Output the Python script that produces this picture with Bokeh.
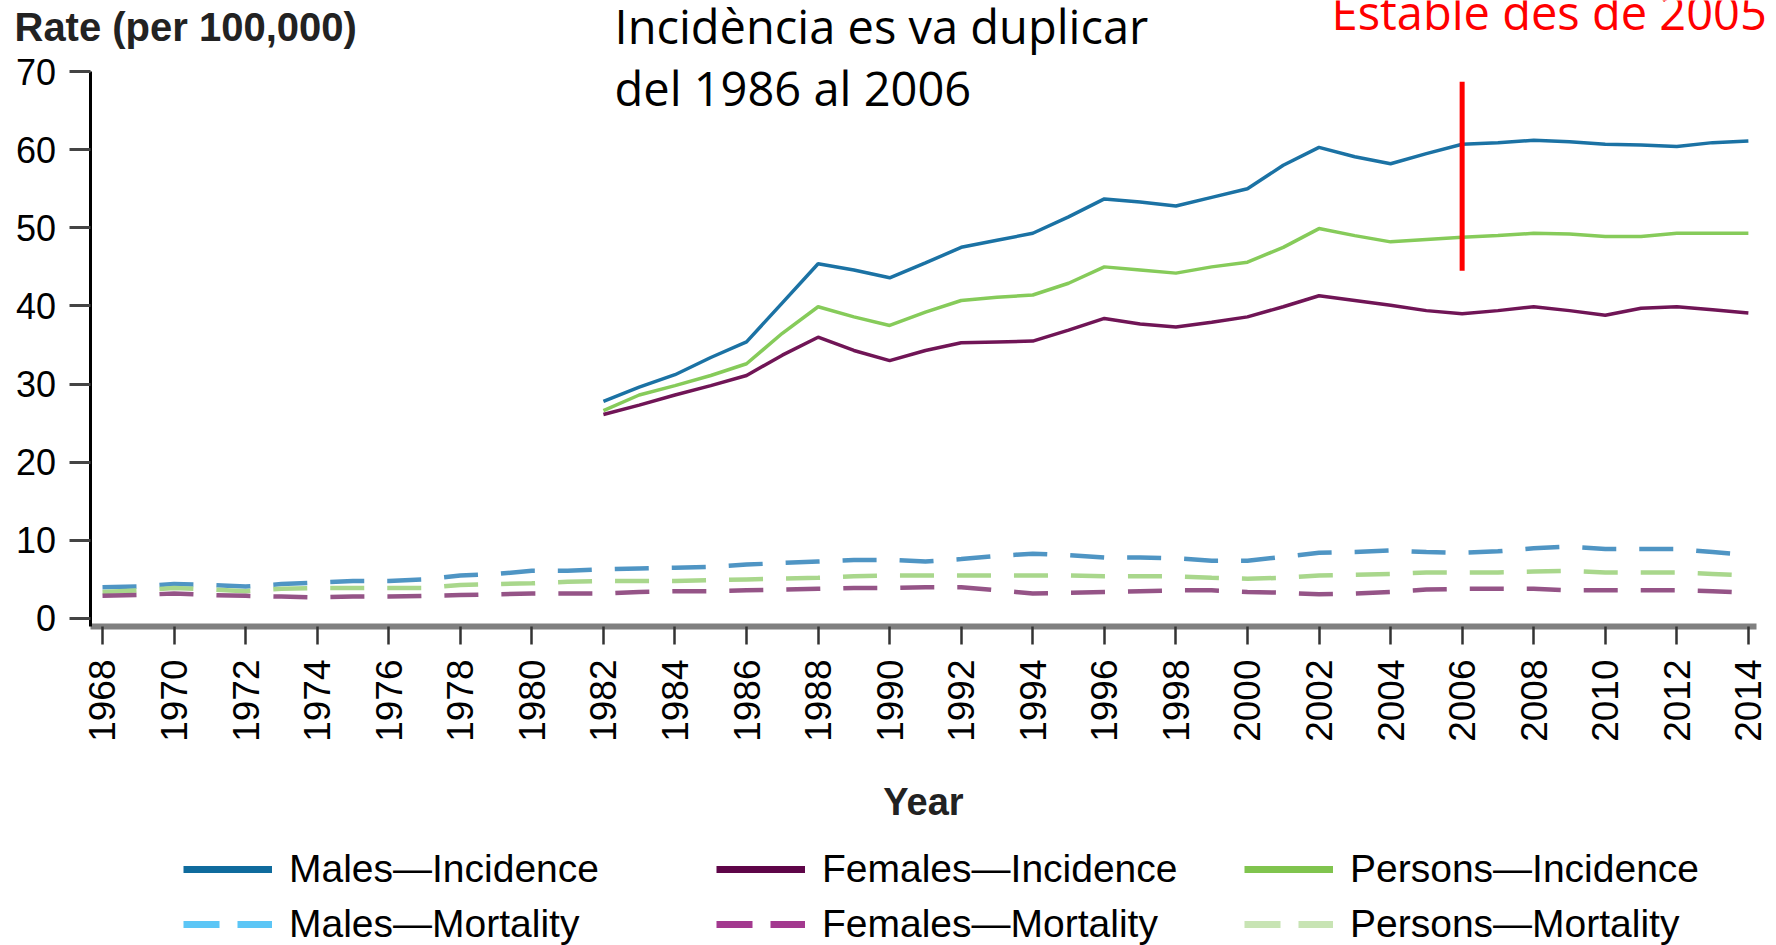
import math
from bokeh.plotting import figure
from bokeh.models import Range1d, FixedTicker, Label, Legend, LegendItem
from bokeh.embed import file_html
from bokeh.resources import INLINE

# ---------------- data ----------------
years = list(range(1968, 2015))
inc_years = list(range(1982, 2015))

males_incidence = [27.8, 29.6, 31.2, 33.4, 35.4, 40.4, 45.4, 44.6, 43.6, 45.5, 47.5, 48.4, 49.3, 51.4, 53.7, 53.3, 52.8,
                   53.9, 55.0, 58.0, 60.3, 59.1, 58.2, 59.5, 60.7, 60.9, 61.2, 61.0, 60.7, 60.6, 60.4, 60.9, 61.1]
females_incidence = [26.1, 27.3, 28.6, 29.8, 31.1, 33.7, 36.0, 34.3, 33.0, 34.3, 35.3, 35.4, 35.5, 36.9, 38.4, 37.7, 37.3,
                     37.9, 38.6, 39.9, 41.3, 40.7, 40.1, 39.4, 39.0, 39.4, 39.9, 39.4, 38.8, 39.7, 39.9, 39.5, 39.1]
persons_incidence = [26.6, 28.6, 29.8, 31.1, 32.6, 36.5, 39.9, 38.6, 37.5, 39.2, 40.7, 41.1, 41.4, 42.9, 45.0, 44.6, 44.2,
                     45.0, 45.6, 47.5, 49.9, 49.0, 48.2, 48.5, 48.8, 49.0, 49.3, 49.2, 48.9, 48.9, 49.3, 49.3, 49.3]

males_mortality = [4.0, 4.1, 4.4, 4.3, 4.1, 4.4, 4.6, 4.8, 4.8, 5.0, 5.5, 5.7, 6.1, 6.1, 6.3, 6.4, 6.5, 6.6, 6.9, 7.1,
                   7.3, 7.5, 7.5, 7.3, 7.6, 8.0, 8.3, 8.1, 7.8, 7.8, 7.7, 7.4, 7.4, 7.9, 8.4, 8.5, 8.7, 8.5, 8.4, 8.6,
                   9.0, 9.2, 8.9, 8.9, 8.9, 8.5, 8.1]
females_mortality = [2.9, 3.0, 3.2, 3.0, 2.9, 2.8, 2.7, 2.8, 2.8, 2.9, 3.0, 3.1, 3.2, 3.2, 3.2, 3.4, 3.5, 3.5, 3.6, 3.7,
                     3.8, 3.9, 3.9, 4.0, 4.0, 3.6, 3.2, 3.3, 3.4, 3.5, 3.6, 3.6, 3.4, 3.3, 3.1, 3.2, 3.4, 3.7, 3.8, 3.8,
                     3.8, 3.6, 3.6, 3.6, 3.6, 3.5, 3.3]
persons_mortality = [3.4, 3.6, 3.9, 3.7, 3.5, 3.8, 3.9, 3.9, 3.9, 3.9, 4.3, 4.4, 4.5, 4.7, 4.8, 4.8, 4.8, 4.9, 5.0, 5.1,
                     5.2, 5.4, 5.5, 5.5, 5.5, 5.5, 5.5, 5.5, 5.4, 5.4, 5.4, 5.2, 5.1, 5.2, 5.5, 5.6, 5.7, 5.9, 5.9, 5.9,
                     6.0, 6.1, 5.9, 5.9, 5.9, 5.7, 5.5]

x_ticks = list(range(1968, 2015, 2))
y_ticks = [0, 10, 20, 30, 40, 50, 60, 70]

marker_year = [2006]
marker_low = [44.5]
marker_high = [68.7]

legend_labels = ["Males\u2014Incidence", "Females\u2014Incidence", "Persons\u2014Incidence",
                 "Males\u2014Mortality", "Females\u2014Mortality", "Persons\u2014Mortality"]

# ---------------- figure ----------------
# plot area spans the whole canvas; axes are pinned at fixed data locations
X0, X1 = 1965.149, 2014.786
Y0, Y1 = -41.85, 79.09
AX_X = 1967.651   # where the y axis sits
AX_Y = -1.024     # where the x axis sits

p = figure(width=1776, height=945, output_backend="svg", toolbar_location=None,
           x_range=Range1d(X0, X1), y_range=Range1d(Y0, Y1),
           min_border_left=0, min_border_right=0, min_border_top=0, min_border_bottom=0)
p.outline_line_color = None
p.xgrid.grid_line_color = None
p.ygrid.grid_line_color = None
p.background_fill_color = "white"
p.border_fill_color = "white"

TICK_FONT = "Liberation Sans"

# x axis
xa = p.xaxis[0]
xa.fixed_location = AX_Y
xa.bounds = (AX_X, 2014.22)
xa.ticker = FixedTicker(ticks=x_ticks)
xa.major_label_orientation = math.pi / 2
xa.axis_line_color = "#808080"
xa.axis_line_width = 6
xa.major_tick_line_color = "#333333"
xa.major_tick_line_width = 2.5
xa.major_tick_out = 18
xa.major_tick_in = 0
xa.minor_tick_line_color = None
xa.major_label_text_font = TICK_FONT
xa.major_label_text_font_size = "37px"
xa.major_label_text_color = "black"
xa.major_label_standoff = 15
xa.axis_label = "Year"
xa.axis_label_text_font = TICK_FONT
xa.axis_label_text_font_style = "bold"
xa.axis_label_text_font_size = "38px"
xa.axis_label_text_color = "#222222"
xa.axis_label_standoff = 36

# y axis
ya = p.yaxis[0]
ya.fixed_location = AX_X
ya.bounds = (AX_Y, 70)
ya.ticker = FixedTicker(ticks=y_ticks)
ya.axis_line_color = "black"
ya.axis_line_width = 3
ya.major_tick_line_color = "#444444"
ya.major_tick_line_width = 3
ya.major_tick_out = 21
ya.major_tick_in = 0
ya.minor_tick_line_color = None
ya.major_label_text_font = TICK_FONT
ya.major_label_text_font_size = "36px"
ya.major_label_text_color = "black"
ya.major_label_standoff = 13

# ---------------- series ----------------
mort_dash = "34 23"
p.line(years, males_mortality, line_color="#4f95c4", line_width=4.5, line_dash=mort_dash)
p.line(years, persons_mortality, line_color="#a9d78c", line_width=4.5, line_dash=mort_dash)
p.line(years, females_mortality, line_color="#955487", line_width=4.5, line_dash=mort_dash)

p.line(inc_years, males_incidence, line_color="#1b72a4", line_width=3.5)
p.line(inc_years, persons_incidence, line_color="#86cb5a", line_width=3.5)
p.line(inc_years, females_incidence, line_color="#701556", line_width=3.5)

p.segment(x0=marker_year, y0=marker_low, x1=marker_year, y1=marker_high,
          line_color="#ff0000", line_width=5)

# ---------------- legend ----------------
leg_specs = [
    dict(color="#0f6b9d", dash="solid"),
    dict(color="#5e0548", dash="solid"),
    dict(color="#80c44e", dash="solid"),
    dict(color="#5cc6f6", dash="36 18"),
    dict(color="#a3398f", dash="36 18"),
    dict(color="#c8e4b4", dash="36 18"),
]
leg_x = [183, 716, 1244]
leg_y = [54, -1]
for i, (lab, spec) in enumerate(zip(legend_labels, leg_specs)):
    # legend-only renderer: a single undefined point, nothing is drawn in the plot
    r = p.line(years[:1], [float("nan")], line_color=spec["color"], line_width=7, line_dash=spec["dash"])
    lg = Legend(items=[LegendItem(label=lab, renderers=[r])],
                location=(leg_x[i % 3], leg_y[i // 3]),
                border_line_color=None, background_fill_alpha=0,
                padding=0, margin=0, spacing=0,
                glyph_width=89, glyph_height=30, label_height=30,
                label_standoff=17,
                label_text_font=TICK_FONT, label_text_font_size="39px",
                label_text_color="black")
    p.add_layout(lg)

# ---------------- annotations ----------------
p.add_layout(Label(x=1965.54, y=75.7, text="Rate (per 100,000)", text_font=TICK_FONT,
                   text_font_style="bold", text_font_size="40px", text_color="#222222",
                   text_baseline="alphabetic"))
p.add_layout(Label(x=1982.31, y=75.8, text="Incidència es va duplicar", text_font="Open Sans",
                   text_font_size="47px", text_color="black", text_baseline="alphabetic"))
p.add_layout(Label(x=1982.31, y=67.9, text="del 1986 al 2006", text_font="Open Sans",
                   text_font_size="47px", text_color="black", text_baseline="alphabetic"))
p.add_layout(Label(x=2002.35, y=77.6, text="Estable des de 2005", text_font="Open Sans",
                   text_font_size="47px", text_color="#ff0000", text_baseline="alphabetic"))

open("out.html", "w").write(file_html(p, INLINE))
